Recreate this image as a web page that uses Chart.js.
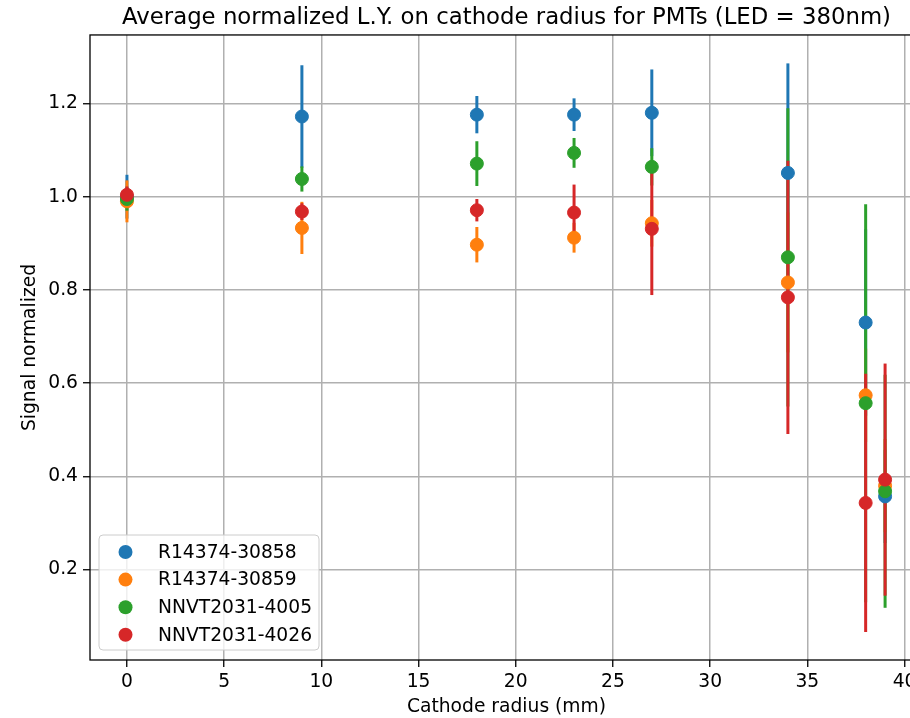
<!DOCTYPE html>
<html>
<head>
<meta charset="utf-8">
<script src="https://cdn.jsdelivr.net/npm/chart.js@4.4.0/dist/chart.umd.min.js"></script>
<style>
  html, body { margin: 0; padding: 0; background: #fff; overflow: hidden; }
  #wrap { width: 940px; height: 718px; }
</style>
</head>
<body>
<div id="wrap"><canvas id="lyChart" width="940" height="718"></canvas></div>
<script>
// cathode radius (mm) of each measurement
var radius = [0, 9, 18, 23, 27, 34, 38, 39];

// average normalized signal and its error, one pair per PMT
var ly30858  = [1.000, 1.172, 1.176, 1.176, 1.180, 1.051, 0.730, 0.357];
var err30858 = [0.047, 0.110, 0.040, 0.035, 0.093, 0.235, 0.200, 0.100];

var ly30859  = [0.990, 0.933, 0.897, 0.912, 0.943, 0.816, 0.574, 0.380];
var err30859 = [0.045, 0.056, 0.038, 0.032, 0.050, 0.150, 0.100, 0.100];

var ly4005  = [0.995, 1.038, 1.071, 1.094, 1.064, 0.870, 0.557, 0.368];
var err4005 = [0.025, 0.027, 0.048, 0.032, 0.040, 0.320, 0.427, 0.250];

var ly4026  = [1.004, 0.968, 0.971, 0.966, 0.931, 0.784, 0.343, 0.393];
var err4026 = [0.018, 0.018, 0.024, 0.060, 0.142, 0.293, 0.277, 0.249];

var pmtNames = ['R14374-30858', 'R14374-30859', 'NNVT2031-4005', 'NNVT2031-4026'];
var pmtColors = ['#1f77b4', '#ff7f0e', '#2ca02c', '#d62728'];

var xTicks = [0, 5, 10, 15, 20, 25, 30, 35, 40];
var yTicks = [0.2, 0.4, 0.6, 0.8, 1.0, 1.2];

var fontName = "'DejaVu Sans', sans-serif";
var labelSize = 18.7;

function makeSet(idx, values, errors) {
    return {
        label: pmtNames[idx],
        data: radius.map(function (r, i) { return { x: r, y: values[i] }; }),
        errorValues: errors,
        backgroundColor: pmtColors[idx],
        borderColor: pmtColors[idx],
        pointRadius: 6.5,
        pointBorderWidth: 1,
        pointHoverRadius: 6.5,
        order: 4 - idx
    };
}

// error bars go under all markers, in series order
var errorBars = {
    id: 'errorBars',
    beforeDatasetsDraw: function (chart) {
        var ctx = chart.ctx, xs = chart.scales.x, ys = chart.scales.y, a = chart.chartArea;
        ctx.save();
        ctx.beginPath();
        ctx.rect(a.left, a.top, a.right - a.left, a.bottom - a.top);
        ctx.clip();
        ctx.lineWidth = 3;
        chart.data.datasets.forEach(function (ds) {
            ctx.strokeStyle = ds.borderColor;
            ds.data.forEach(function (p, i) {
                var px = xs.getPixelForValue(p.x);
                ctx.beginPath();
                ctx.moveTo(px, ys.getPixelForValue(p.y - ds.errorValues[i]));
                ctx.lineTo(px, ys.getPixelForValue(p.y + ds.errorValues[i]));
                ctx.stroke();
            });
        });
        ctx.restore();
    }
};

// axes frame + legend box in the lower left corner
var frameAndLegend = {
    id: 'frameAndLegend',
    afterDatasetsDraw: function (chart) {
        var ctx = chart.ctx, a = chart.chartArea;
        ctx.save();
        ctx.strokeStyle = '#000';
        ctx.lineWidth = 1.3;
        ctx.strokeRect(a.left, a.top, a.right - a.left, a.bottom - a.top);

        var bw = 220, bh = 115, r = 4;
        var bx = a.left + 9, by = a.bottom - 10 - bh;
        ctx.beginPath();
        ctx.moveTo(bx + r, by);
        ctx.lineTo(bx + bw - r, by);
        ctx.arcTo(bx + bw, by, bx + bw, by + r, r);
        ctx.lineTo(bx + bw, by + bh - r);
        ctx.arcTo(bx + bw, by + bh, bx + bw - r, by + bh, r);
        ctx.lineTo(bx + r, by + bh);
        ctx.arcTo(bx, by + bh, bx, by + bh - r, r);
        ctx.lineTo(bx, by + r);
        ctx.arcTo(bx, by, bx + r, by, r);
        ctx.closePath();
        ctx.fillStyle = 'rgba(255,255,255,0.8)';
        ctx.fill();
        ctx.strokeStyle = '#cccccc';
        ctx.lineWidth = 1;
        ctx.stroke();

        ctx.font = labelSize + 'px ' + fontName;
        ctx.textBaseline = 'middle';
        ctx.textAlign = 'left';
        chart.data.datasets.forEach(function (ds, i) {
            var cy = by + 17 + i * 27.6;
            ctx.fillStyle = ds.backgroundColor;
            ctx.beginPath();
            ctx.arc(bx + 26.5, cy, 7, 0, Math.PI * 2);
            ctx.fill();
            ctx.fillStyle = '#000';
            ctx.fillText(ds.label, bx + 59, cy + 1);
        });
        ctx.restore();
    }
};

var ctx = document.getElementById('lyChart').getContext('2d');
var chart = new Chart(ctx, {
    type: 'scatter',
    data: {
        datasets: [
            makeSet(0, ly30858, err30858),
            makeSet(1, ly30859, err30859),
            makeSet(2, ly4005, err4005),
            makeSet(3, ly4026, err4026)
        ]
    },
    options: {
        responsive: false,
        animation: false,
        layout: { padding: { left: 0, right: 17, top: 0, bottom: 0 } },
        plugins: {
            legend: { display: false },
            tooltip: { enabled: false },
            title: {
                display: true,
                fullSize: false,
                text: 'Average normalized L.Y. on cathode radius for PMTs (LED = 380nm)',
                color: '#000',
                font: { family: fontName, size: 22.8, weight: 'normal' },
                padding: { top: 4, bottom: 3.6 }
            }
        },
        scales: {
            x: {
                type: 'linear',
                min: -1.9,
                max: 40.95,
                afterBuildTicks: function (scale) {
                    scale.ticks = xTicks.map(function (v) { return { value: v }; });
                },
                afterFit: function (scale) { scale.height = 58; },
                grid: { color: '#b0b0b0', lineWidth: 1.5, tickLength: 7, tickColor: '#000', tickWidth: 1.3 },
                border: { display: false },
                ticks: {
                    color: '#000', padding: 4, maxRotation: 0, autoSkip: false,
                    font: { family: fontName, size: labelSize }
                },
                title: {
                    display: true, text: 'Cathode radius (mm)', color: '#000',
                    font: { family: fontName, size: labelSize }, padding: { top: 0, bottom: 0 }
                }
            },
            y: {
                type: 'linear',
                min: 0.006,
                max: 1.347,
                afterBuildTicks: function (scale) {
                    scale.ticks = yTicks.map(function (v) { return { value: v }; });
                },
                afterFit: function (scale) { scale.width = 90; },
                grid: { color: '#b0b0b0', lineWidth: 1.5, tickLength: 7, tickColor: '#000', tickWidth: 1.3 },
                border: { display: false },
                ticks: {
                    color: '#000', padding: 5, autoSkip: false,
                    font: { family: fontName, size: labelSize },
                    callback: function (v) { return v.toFixed(1); }
                },
                title: {
                    display: true, text: 'Signal normalized', color: '#000',
                    font: { family: fontName, size: labelSize }, padding: { top: 19, bottom: 0 }
                }
            }
        }
    },
    plugins: [errorBars, frameAndLegend]
});
</script>
</body>
</html>
